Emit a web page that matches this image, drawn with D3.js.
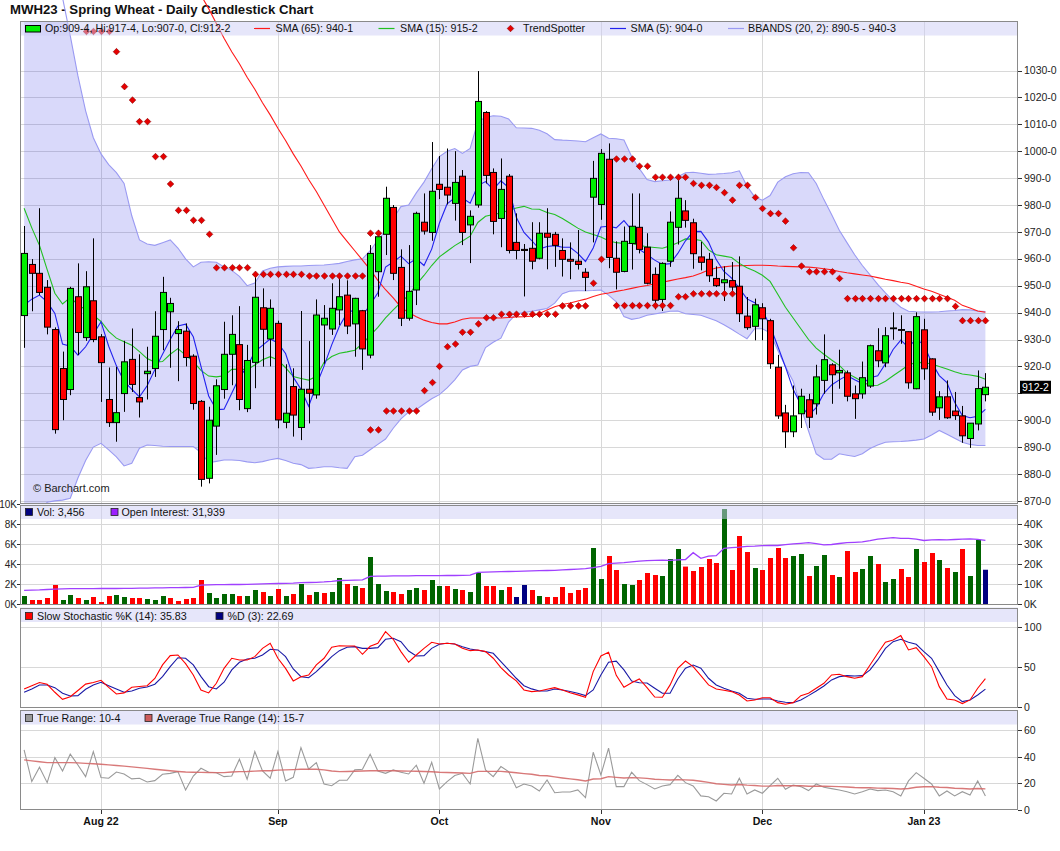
<!DOCTYPE html>
<html><head><meta charset="utf-8">
<script src="https://cdn.jsdelivr.net/npm/d3@7"></script>
<style>
html,body{margin:0;padding:0;background:#fff;}
svg{display:block;}
</style></head><body>
<svg id="chart" width="1060" height="851"></svg>
<script>
// ---------- DATA ----------
const firstDay = "2022-07-18", lastDay = "2023-01-13";
const holidays = ["2022-09-05","2022-11-24","2022-12-26","2023-01-02"];
const monthLabels = ["Aug 22","Sep","Oct","Nov","Dec","Jan 23"];
const priceTicks = [870,880,890,900,910,920,930,940,950,960,970,980,990,1000,1010,1020,1030];
const volTicksLeft = [0,2000,4000,6000,8000,10000];
const oiTicksRight = [0,10000,20000,30000,40000];
const stochTicks = [0,50,100];
const trTicks = [0,20,40,60];

const open = [938.9,957.9,954.6,949.4,933.7,919.2,911.4,945.9,930.7,944.4,
931,907.7,899.1,909.9,922.6,908.4,917.3,919.2,933.7,940.3,
932.2,933.1,923.8,907,878.4,897.8,911.4,924.5,928.1,904.3,
921.5,941.8,930.2,936,899.2,912.5,897.3,911.5,909.4,935.4,
933.9,941,946.5,935.8,940.7,924.2,955.2,969.1,979.1,956.8,
937.9,948.4,973.6,969.8,987.7,986.6,980.6,990.7,972.6,980,
1014.4,992.1,975,990.7,966.1,963.5,963.9,960.2,969.5,969.1,
963.1,959.8,959.1,955,982.9,980.2,997,960.2,955.3,965.7,
971.7,964.3,954.2,944.9,959.1,971.7,977.8,973.4,960.7,959.8,
952.7,951.1,951.9,949.8,938.7,934.9,941.8,937,919.7,902.7,
895.7,902.4,907.6,906.1,914.8,920.6,917.6,917.6,909.8,909.8,
912.7,925.8,921.3,934,933.7,932.9,911.7,933.6,922.8,904.6,
908.7,903.4,901.6,893.2,898.6,909.5];
const high = [972.2,959.9,978.8,952.1,934.5,925.5,949.6,958.3,955.4,967.6,
932,919.6,919.8,929.5,934.1,924.5,927.3,940.5,953.3,945.5,
936.8,936,924.5,907.5,905,915.2,936.6,939,942.4,928,
954.6,949,944.9,937,920.8,919.3,940.6,929.4,944.9,942.8,
950.9,954.6,952,945.5,941,965.1,970.7,986.8,980,963.5,
965.1,977.5,984.3,1003.4,998.2,1001,1000,993,978,1029.8,
1014.9,993.6,997.3,991.5,976.9,965.5,973.6,973.6,978.8,970,
967.6,966.1,970.7,956.5,996.4,1000.8,1002.9,966.5,972,984.3,
984.3,969.5,956.8,958.7,977.6,991.4,981.8,974.9,966.3,962.2,
957.2,957.2,958.8,960.9,945.8,945.2,943.5,937.7,924.3,905.7,
912.9,911.7,909.8,920.6,931.9,921.2,926.2,918.5,912.9,921.8,
928.1,934.2,934.6,940.1,939,933,940.1,937.7,923,910.8,
914.8,910.5,905.3,898.9,918.5,917.5];
const low = [926.9,940.5,946.5,931.9,895,900,909.3,924.2,929.5,929,
906.8,897.5,892,903.1,910.5,901,907.7,916.1,926,919.5,
914.5,920,903.9,875.3,876.5,887.1,908,913,903.7,903,
911.9,919.9,920,897,897,893.9,892.6,898.8,908,921,
931.7,935.4,932,923.6,918.7,923,945.9,961.4,952.1,935,
937,942.8,969,966.7,982.2,980.2,974.2,965.1,958.4,979,
988,969.1,964.3,962,959.8,946,956.1,959.8,956.1,957,
953.4,952.4,956,948,966.1,974.5,956.5,948.6,955,956,
962,950.5,941.2,940.6,957,965.3,971.6,956.3,955.7,951.4,
949.5,944.3,947,936.5,933.6,929.7,929.7,919.1,900.5,889.7,
893.7,897.1,897.1,902.1,909.8,906.1,911.7,907,900.5,908,
912,919.7,919.7,929.9,928.4,911.7,911.5,915,901.6,900.1,
900.5,900.1,891.6,889.7,896.2,907];
const close = [962,954.6,947.5,934.6,896.5,907.7,949,932.6,949.6,930,
921.4,899.1,902.8,921.7,913.3,906.8,918.2,931.2,947.5,943.4,
933.7,923.3,906.2,878,900,912.8,924.5,931.9,907.7,922.2,
945.7,933.8,941.6,900.1,902.6,901.9,911.5,910,939.1,937.9,
941.6,945.9,935,945.3,926.5,962,968.2,982.5,954.6,937.9,
947.9,976.9,970.3,985.1,985.8,983.7,988.4,969.8,975.8,1018.5,
991,973.9,985.8,963.1,963.1,963.1,959.1,969.5,968,965,
959.8,959.1,957.9,953.1,989.9,999.2,960.5,955,966.5,972.1,
963.5,950.9,944.6,958.3,973.6,982.5,974.3,961.9,958.7,953.7,
950,952.2,949.5,939.6,934.4,942.9,937.7,921,901.6,895.7,
901.6,908.9,901.1,916.1,922.5,916.9,918.5,908.9,908,915.8,
927.7,922.1,931.4,934.3,933.5,913.9,938.5,919.1,903,908.7,
900.9,901.7,894.2,898.9,911.75,912.25];
const volume = [830,430,430,630,1930,430,930,630,430,730,
230,830,930,730,630,630,530,430,830,630,
330,530,630,2430,1130,630,1030,1030,830,830,
1430,1230,830,1530,830,1030,2030,930,1230,1130,
1230,2630,2030,1830,1630,4730,2030,1330,1230,1030,
1430,1630,1430,2430,1830,1830,1530,1430,1230,3130,
1830,1830,1430,1730,730,1930,1430,830,730,730,
1730,1130,1430,1630,5630,2530,4830,3430,2030,1930,
2430,3130,2930,2830,4530,5530,3770,3330,3730,4530,
4130,9530,3430,6830,5230,3630,3430,4630,5630,4630,
4830,5030,2830,3830,4930,2930,2730,5330,3230,3530,
4830,4030,2230,2530,3530,2730,5530,4230,5130,4430,
3630,3230,5530,2830,6430,3456];
const openInterest = [7000,7100,7200,7400,7600,7700,7800,7800,7800,7800,
7900,7900,7900,8000,8000,8100,8100,8200,8200,8300,
8300,8400,8500,9600,9700,9800,9800,9900,9900,10000,
10100,10200,10300,10400,10500,10600,10800,10900,11000,11200,
11500,11900,12000,12100,12200,14000,14100,14100,14200,14200,
14200,14300,14300,14300,14300,14400,14400,14500,14600,16000,
16100,16200,16300,16400,16500,16600,16700,16800,16900,17000,
17200,17400,17600,17800,18300,19000,20300,20600,20800,21200,
21600,21800,22000,22100,22000,22200,22400,25800,23000,24100,
24300,28000,28300,28600,29000,29100,29300,29400,29400,29800,
30200,30500,30800,30300,29700,29900,30400,30800,31000,31200,
31800,32600,33000,33300,33000,33000,32600,31900,32200,32300,
32200,32400,32600,32700,32500,31939];
const sma65 = [null,null,null,null,null,null,null,null,null,null,
null,null,null,null,null,null,null,null,null,null,
null,null,null,1058,1053,1047.5,1042,1037,1032.5,1027.5,
1023,1018,1013.5,1008.5,1004,999,994.5,989.5,985,980,
975,970,966.5,963,959.5,956,952,948.5,945.5,942,
940,938.5,937.2,936.3,935.8,935.8,936.5,937.5,938,938,
938,938,938,938.2,938.4,938.5,938.7,939.7,941,942.2,
943,943.6,944.3,945,946,946.8,947.3,947.9,948.4,949,
949.6,950.1,950.7,951.3,951.9,952.5,953,953.6,954.6,955.8,
956.6,957,957.3,957.4,957.5,957.6,957.6,957.5,957.3,957.2,
957.1,957,956.9,956.7,956.3,955.9,955.3,954.8,954.4,954,
953.6,953,952.4,951.9,951.3,950.8,949.8,948.8,947.9,946.8,
945.7,944.6,942.7,941.7,940.6,940.1];
const sma15 = [978.8,971.5,965,956,947.2,943.2,945.6,943,941,939,
936.7,933,930.5,929.2,927.9,925.5,922.9,921.6,921.8,924.5,
926.6,924.2,921.8,918.5,916.4,916.1,916.5,918.9,919,918.8,
920.5,922.5,923.6,922.4,919.5,916.2,915.5,914.9,916.2,921.5,
923.7,924.9,925.4,926,928.5,931.5,934.5,938,941,943.8,
946.5,950.4,953.8,957.5,960.7,962.8,964.9,966.6,968.4,973.5,
975.8,976.5,977,978,978.9,979.5,978.5,978.4,977.2,976.5,
975,973.2,971.4,970,969,968.1,966.7,966,965.7,965.7,
965,964.5,964.2,963.9,964.8,966,967.4,967.3,966.8,963.3,
961.5,961,960.5,958.3,956.7,955.5,953.9,951.6,946.8,942,
938,934,930,926.8,924.5,922.4,920.4,917.5,916,914.4,
912.8,913,914.5,916.5,918.5,920.5,921.5,921.4,920.9,920,
919,918,917.2,916.8,916.3,915.25];
const sma5 = [942.8,945,946.5,944,939.7,928.3,927.5,924.2,927.3,932,
936.6,927.5,920.2,914.5,911.5,908.7,912.8,918.8,924.5,930,
935,935.7,931,920,909,903.9,904.1,910,916,919.8,
925.5,927.8,930.2,928.7,924.8,916,911.5,905.2,913,920.1,
928,934.9,939.9,941.1,938.9,942.9,947.4,956.9,958.8,961,
958.2,960,957.5,963.6,973.2,980.4,982.7,982.6,980.7,987.2,
988.7,985.8,989,986.5,975.4,969.8,966.8,963.6,964.6,964.9,
964.3,964.3,962,959,964,971.8,972.1,971.5,974.2,970.7,
963.5,961.6,959.5,957.9,958.2,962,966.7,970.1,970.2,966.2,
959.7,955.3,952.8,949,945.1,943.7,940.8,935.1,927.5,919.8,
911.5,905.8,901.8,904.7,910,913.1,915,916.6,915,913.6,
915.8,916.5,921,926.3,929.8,927,930.3,927.9,921.6,916.6,
914,906.7,901.7,900.9,901.5,904];
const bbUpper = [1080,1077,1073,1068,1063,1057,1043,1028,1015,1005,
999,995,992,988,976,967,965.5,965,966,967,
964,960,957,958.7,958.9,958.7,957,955.7,953.5,950,
951,955.5,956.5,957,957.2,957.3,957.3,957.5,957.6,957.7,
958,958.3,959,959.6,960,963,967,970.5,975,979.4,
980,984.5,988.5,993.5,998,1000,1001,999.2,1001,1011,
1012.5,1013.2,1013,1012,1008.7,1008.6,1008.5,1007.8,1006.5,1004.3,
1004.1,1004,1003.8,1003.5,1005,1006.4,1004.8,1004.6,1004.2,998,
993.5,989.5,988.7,989,989.3,990.5,992,992.2,991.8,991.4,
991.5,991.7,992,992.7,987,983,981.8,983.5,988.5,990.5,
991.6,992.1,992,988,982,976.5,970.6,966,961.5,957.5,
954,950.5,947.3,944.4,942,940.5,940.3,940.2,940.2,940.3,
940.6,940.8,941.1,941,940.6,940.4];
const bbLower = [855,860,865,869.5,870,870.3,871,878.5,885,890,
891.4,889,886.4,883,884,889.6,890.8,890.6,890.3,890.2,
890.2,890.2,890.2,888,884.2,884.7,885.2,885.2,885,884.5,
884.2,884.6,885.3,885.8,885,884,883.5,882.1,882.3,882.7,
882.7,882.3,882.1,886.4,887,889,891,893,897,900.5,
903,904,906,908,909.5,912,915,918.7,920,920.5,
927,929,930.5,936.5,939.5,940,940.5,941,941.5,943.5,
947,948,948.1,948.1,948.2,948.4,946.5,944,938.5,937.5,
938,939,939.5,940,940.5,940.6,939.6,939.3,939,938,
937,935.5,933.8,932,930.3,934,934,932.5,926,920,
914.5,905,896,887.5,885.5,885.5,887.5,887,886.5,887.5,
889.5,890.8,891.8,892,892.1,892.3,892.6,893,894.5,896.2,
894.8,893.3,891.8,891,890.6,890.6];
const trendAbove = [null,null,null,null,null,null,null,null,1044.5,1044.5,
1044.5,1044.5,1037,1024,1019,1011,1011,998,998,987.8,
978,978,974.3,974.3,969.1,956.7,956.7,956.7,956.7,956.7,
954.2,954.2,954.2,954.2,954.2,954.2,954.2,953.6,953.6,953.6,
953.6,953.6,953.6,953.6,953.6,969.5,969.5,null,null,null,
null,null,null,null,null,null,null,null,null,null,
null,null,null,null,null,null,null,null,null,null,
null,null,null,null,null,null,null,997.1,997.1,997.1,
994.4,994.4,990.3,990.3,990.3,990.3,990.3,988,987.3,987.3,
986.5,984.6,981.8,987.3,987.3,982.8,978.7,976.8,976.8,974,
964.1,957.3,955.2,955.2,955.2,955.2,952.7,945.2,945.2,945.2,
945.2,945.2,945.2,945.2,945.2,945.2,945.2,945.2,945.2,945.2,
945.2,942.3,937,937,937,937];
const trendBelow = [null,null,null,null,null,null,null,null,null,null,
null,null,null,null,null,null,null,null,null,null,
null,null,null,null,null,null,null,null,null,null,
null,null,null,null,null,null,null,null,null,null,
null,null,null,null,null,896.4,896.4,903.4,903.4,903.4,
903.4,903.4,911,914,920,927.3,928.3,932.7,932.7,935.8,
938.1,938.1,939.4,939.4,939.4,939.4,939.4,939.4,939.4,939.4,
942.5,942.5,942.5,942.5,950.9,959.8,null,942.6,942.6,942.6,
942.6,942.6,942.6,942.6,942.6,945.9,945.9,947,947,947,
947,947,947,null,null,null,null,null,null,null,
null,null,null,null,null,null,null,null,null,null,
null,null,null,null,null,null,null,null,null,null,
null,null,null,null,null,null];
const stochK = [22.9,27,31,28.8,18.8,10,13.3,21,29,31,
33.8,25,16.7,18,25,26,27,36,53,64.6,
65.4,54.6,40.4,21.7,18,30,48.7,61.3,59.2,59.2,
63.3,73.7,80,61.3,48.7,33,38.3,40.4,53,61.3,
75,77,76.7,76.7,66.3,76.3,80,94.6,85,69.6,
56.3,65.4,73.7,81.3,79.2,80,79.2,73.7,70.8,71.7,
69.6,61.3,49.6,40.4,33,21.7,19.6,20.4,22.5,24.6,
21.7,18.3,15.5,12.5,44.6,64.2,68.8,40,25,30.8,
35.4,24.6,12.9,12.5,28,48.8,57.9,50.8,39.6,28,
22.9,21.3,19.6,15.4,7.9,9.2,12,12,5.8,3.75,
5.8,14.6,17.5,23.8,30,40.4,41.3,38.3,36.3,38.3,
52.9,67.5,81.3,84.2,89.6,71.7,74.6,63.3,50.8,25.8,
10.4,9.2,4.6,9.2,23.8,35.83];
const stochD = [18.8,23,27.9,27.9,24.6,17.5,14.2,14.6,22.5,27.9,
31.3,27,22.9,18.8,20.4,23.8,25.4,28.8,38.3,50.8,
62,61.3,53,38.3,25.8,22.9,31.3,46.7,56.3,60.4,
61.3,65.4,72.5,71.7,63.3,47.9,38.3,37,44.6,53.8,
63.3,70.8,75,75.8,73.7,73.7,74.6,85,86.3,82,
70.4,64.2,64.6,73.7,78.8,80,79.2,75.8,72.9,71.3,
69.6,67.5,57,46.7,36.3,27,23,20.4,20.4,22.9,
21.7,19.8,17.5,14.6,21.7,40.4,56.3,57.7,46.7,32.9,
30.7,30.4,23.8,17.5,17.5,35.4,48.8,52.9,48.8,36.3,
27.9,23.8,20.4,17.5,11.3,10,10.4,10.4,7.9,6.3,
5.8,9.2,14.6,20.4,26.7,34.2,38.3,39.6,39.2,39.6,
46.7,59.2,73.7,82.1,85,81.3,78.8,69.6,61.3,44.6,
27.9,14.6,7.1,9.2,15.4,22.69];
const trueRange = [45.2,21.4,32.2,20.6,39.4,29.4,42,33.9,25.1,44,
24.4,23.9,28.6,27.1,23.4,23.9,21.1,22.1,26.9,27.6,
28.9,15.1,25.6,31.4,28.4,28.1,25.1,25.6,38.2,23.1,
44,29.4,23.9,44,21.9,24.6,47,30.7,35.7,19.6,
18.3,22.4,22.4,30.2,30.7,42,29.4,27.6,30.2,28.4,
27.1,33.7,20.1,35.9,15.8,21.4,25.9,27.6,19.6,54,
30.2,25.1,32.7,28.9,16.8,19.6,18,14.3,22.6,13,
13.6,13.6,15.1,9.3,43.5,26.4,46.5,17.6,17.6,28.4,
22.1,19.1,15.8,18.1,19.1,26.1,20.6,18.1,10.6,10,
6.8,12.6,12.1,23.9,12.1,15.1,12.6,18.3,23.9,15.6,
18.8,17.6,14.6,19.6,17.1,16.1,15.1,13.8,12.1,13.8,
15.8,14.6,15.1,13.8,10.6,21.9,28.1,23.9,19.6,10.6,
14.3,10.6,13.8,11.3,21.9,10.5];
const atr = [37.7,37,36.3,35.7,35.7,35.7,35.7,35.5,35.1,34.8,
34.4,34,33.5,33,32.5,31.9,31.3,30.7,30.1,29.5,
29,28.6,28.4,28.3,28.2,28.1,28.1,28.6,28.9,29,
29.3,29.5,29.6,30,30.2,30.4,30.7,30.7,30.7,30.2,
29.4,28.9,29,29.2,29.4,29.6,29.6,29.5,29.5,29.4,
29.3,29.2,29,28.8,28.4,28.2,28,27.8,27.6,29.1,
29.1,29.1,29.1,28.6,28,27.4,26.9,26,25.8,24.9,
24.1,23.4,22.8,21.8,23.3,23.5,25.1,24.6,24.1,24.4,
24.2,23.8,23.2,22.9,22.6,22.9,22.7,22.4,21.6,20.8,
19.8,19.3,18.8,19.2,18.7,18.4,18,18,18.4,18.2,
18.3,18.2,17.9,18,17.9,17.8,17.6,17.3,16.9,16.8,
16.7,16.5,16.4,16.2,15.8,16.2,17.1,17.5,17.6,17.1,
16.9,16.4,16.2,15.8,16.2,15.875];

// ---------- SETUP ----------
const FONT = "'Liberation Sans', Arial, Helvetica, sans-serif";
const svg = d3.select("#chart").style("font-family", FONT);
const X0 = 20, X1 = 1018;
const crisp = v => Math.round(v) + 0.5;
const parse = d3.utcParse("%Y-%m-%d"), key = d3.utcFormat("%Y-%m-%d");
const dates = d3.utcDay.range(parse(firstDay), d3.utcDay.offset(parse(lastDay), 1))
  .filter(d => d.getUTCDay() !== 0 && d.getUTCDay() !== 6 && !holidays.includes(key(d)));
const keys = dates.map(key);
const bars = keys.map((k, i) => ({k, i, o: open[i], h: high[i], l: low[i], c: close[i]}));
const x = d3.scalePoint().domain(keys).range([24.1, 985.4]);
const monthStarts = keys.filter((k, i) => i > 0 && dates[i].getUTCMonth() !== dates[i-1].getUTCMonth());
const n = keys.length;
const fmtP = p => { let w = Math.floor(p), e = Math.round((p - w) * 8); if (e === 8) { w += 1; e = 0; } return w + "-" + e; };

const panels = {
  main: {top: 21, bottom: 504},
  vol: {top: 504.5, bottom: 604.5},
  sto: {top: 607.5, bottom: 707.5},
  tr: {top: 710, bottom: 810}
};
const defs = svg.append("defs");
function clip(id, y0, y1) {
  defs.append("clipPath").attr("id", id).append("rect").attr("x", X0).attr("y", y0).attr("width", X1 - X0).attr("height", y1 - y0);
  return "url(#" + id + ")";
}
const clipMain = clip("cm", 21, 504), clipMainLines = clip("cml", -30, 504);
const clipVol = clip("cv", 504.5, 604.5), clipSto = clip("cs", 607.5, 707.5), clipTr = clip("ct", 710, 810);

const yP = d3.scaleLinear().domain([880, 1030]).range([474, 70.5]);
const yV = d3.scaleLinear().domain([0, 10000]).range([604.3, 504.3]);
const yOI = d3.scaleLinear().domain([0, 40000]).range([604.3, 524.3]);
const yS = d3.scaleLinear().domain([0, 100]).range([707.3, 627.3]);
const yT = d3.scaleLinear().domain([0, 60]).range([810, 730.3]);

const GRID = "#d8d8d8";
function vGrid(g, p) {
  g.selectAll(null).data(monthStarts).join("line")
    .attr("x1", d => crisp(x(d))).attr("x2", d => crisp(x(d)))
    .attr("y1", p.top).attr("y2", p.bottom).attr("stroke", GRID).attr("stroke-width", 1);
}
function hGrid(g, vals, sc) {
  g.selectAll(null).data(vals).join("line")
    .attr("x1", X0).attr("x2", X1).attr("y1", d => crisp(sc(d))).attr("y2", d => crisp(sc(d)))
    .attr("stroke", GRID).attr("stroke-width", 1);
}
function legendBand(p, h) {
  svg.append("rect").attr("x", X0).attr("y", p.top).attr("width", X1 - X0).attr("height", h)
    .attr("fill", "#cdcdf5").attr("opacity", 0.5);
}
function frame(p) {
  svg.append("rect").attr("x", X0 + 0.5).attr("y", crisp(p.top) ).attr("width", X1 - X0 - 1).attr("height", Math.round(p.bottom - p.top) - 1)
    .attr("fill", "none").attr("stroke", "#8a8a8a").attr("stroke-width", 1);
}
function rightAxis(vals, sc, fmt, skip) {
  const g = svg.append("g");
  g.selectAll(null).data(vals).join("line").attr("x1", X1).attr("x2", X1 + 4)
    .attr("y1", d => crisp(sc(d))).attr("y2", d => crisp(sc(d))).attr("stroke", "#333");
  g.selectAll(null).data(vals.filter(v => !skip || !skip(v))).join("text").attr("x", X1 + 6).attr("y", d => sc(d)).attr("dy", "0.35em")
    .attr("font-size", 10.5).attr("fill", "#222").text(fmt);
}
function leftAxis(vals, sc, fmt) {
  const g = svg.append("g");
  g.selectAll(null).data(vals).join("line").attr("x1", X0 - 3).attr("x2", X0)
    .attr("y1", d => crisp(sc(d))).attr("y2", d => crisp(sc(d))).attr("stroke", "#333");
  g.selectAll(null).data(vals).join("text").attr("x", X0 - 3).attr("y", d => sc(d)).attr("dy", "0.35em")
    .attr("text-anchor", "end").attr("font-size", 10).attr("fill", "#222").text(fmt);
}
function lineOf(sc, arr) {
  return d3.line().defined((d, i) => arr[i] != null).x(d => x(d)).y((d, i) => sc(arr[i]));
}
function legSquare(xx, yy, color) {
  svg.append("rect").attr("x", xx + 0.5).attr("y", yy + 0.5).attr("width", 7).attr("height", 7)
    .attr("fill", color).attr("stroke", "#222").attr("stroke-width", 0.8);
}
function legLine(xx, yy, color) {
  svg.append("line").attr("x1", xx).attr("x2", xx + 16).attr("y1", yy + 0.5).attr("y2", yy + 0.5).attr("stroke", color).attr("stroke-width", 1.2);
}
function legText(xx, yy, t) {
  svg.append("text").attr("x", xx).attr("y", yy).attr("font-size", 10.7).attr("fill", "#111").text(t);
}

// ---------- TITLE ----------
svg.append("text").attr("x", 10).attr("y", 14).attr("font-size", 13.2).attr("font-weight", "bold")
  .attr("fill", "#111").text("MWH23 - Spring Wheat - Daily Candlestick Chart");

// ---------- MAIN PANEL ----------
const pm = panels.main;
const gm = svg.append("g");
hGrid(gm, priceTicks, yP);
vGrid(gm, pm);
gm.append("path").attr("clip-path", clipMain)
  .attr("d", d3.area().x(d => x(d)).y0((d, i) => yP(bbLower[i])).y1((d, i) => yP(bbUpper[i]))(keys))
  .attr("fill", "#2b2be6").attr("fill-opacity", 0.18);
const gl = svg.append("g").attr("clip-path", clipMainLines).attr("fill", "none");
gl.append("path").attr("d", lineOf(yP, bbUpper)(keys)).attr("stroke", "#9a9af2").attr("stroke-width", 1.1);
gl.append("path").attr("d", lineOf(yP, bbLower)(keys)).attr("stroke", "#9a9af2").attr("stroke-width", 1.1);
gl.append("path").attr("d", lineOf(yP, sma65)(keys)).attr("stroke", "#ff1a1a").attr("stroke-width", 1.1);
gl.append("path").attr("d", lineOf(yP, sma15)(keys)).attr("stroke", "#22c022").attr("stroke-width", 1.1);
gl.append("path").attr("d", lineOf(yP, sma5)(keys)).attr("stroke", "#2222ee").attr("stroke-width", 1.1);
const gc = svg.append("g").attr("clip-path", clipMain);
gc.selectAll("line").data(bars).join("line")
  .attr("x1", d => crisp(x(d.k))).attr("x2", d => crisp(x(d.k)))
  .attr("y1", d => yP(d.h)).attr("y2", d => yP(d.l)).attr("stroke", "#000").attr("stroke-width", 1);
gc.selectAll("rect").data(bars).join("rect")
  .attr("x", d => Math.round(x(d.k)) - 2.5).attr("width", 6)
  .attr("y", d => yP(Math.max(d.o, d.c)))
  .attr("height", d => Math.max(0.8, Math.abs(yP(d.o) - yP(d.c))))
  .attr("fill", d => d.c >= d.o ? "#00ee00" : "#ff0000")
  .attr("stroke", "#000").attr("stroke-width", 1);
const diamond = (cx, cy) => `M${cx},${cy-3.3}L${cx+3.3},${cy}L${cx},${cy+3.3}L${cx-3.3},${cy}Z`;
const tsPts = [];
keys.forEach((k, i) => {
  if (trendAbove[i] != null) tsPts.push([x(k), yP(trendAbove[i])]);
  if (trendBelow[i] != null) tsPts.push([x(k), yP(trendBelow[i])]);
});
svg.append("g").attr("clip-path", clipMainLines).selectAll("path").data(tsPts).join("path")
  .attr("d", d => diamond(Math.round(d[0]) + 0.5, d[1])).attr("fill", "#e60000").attr("stroke", "#8a0000").attr("stroke-width", 0.6);
legendBand(pm, 14.5);
svg.append("text").attr("x", 33).attr("y", 492).attr("font-size", 11).attr("fill", "#222").text("\u00a9 Barchart.com");
const L = n - 1;
svg.append("rect").attr("x", 25.5).attr("y", 25.5).attr("width", 15).attr("height", 6.5).attr("fill", "#00ee00").attr("stroke", "#000");
legText(45, 32, `Op:${fmtP(open[L])}, Hi:${fmtP(high[L])}, Lo:${fmtP(low[L])}, Cl:${fmtP(close[L])}`);
legLine(254, 28, "#ff1a1a"); legText(275.5, 32, `SMA (65): ${fmtP(sma65[L])}`);
legLine(378.5, 28, "#22c022"); legText(400, 32, `SMA (15): ${fmtP(sma15[L])}`);
svg.append("path").attr("d", diamond(510.5, 28.5)).attr("fill", "#e60000").attr("stroke", "#8a0000").attr("stroke-width", 0.6);
legText(523, 32, "TrendSpotter");
legLine(610, 28, "#2222ee"); legText(630.5, 32, `SMA (5): ${fmtP(sma5[L])}`);
legLine(728, 28, "#9a9af2"); legText(748, 32, `BBANDS (20, 2): ${fmtP(bbLower[L])} - ${fmtP(bbUpper[L])}`);
frame(pm);
const yl = yP(close[L]);
rightAxis(priceTicks, yP, d => d + "-0", v => Math.abs(yP(v) - yl) < 10);
svg.append("rect").attr("x", 1020).attr("y", yl - 6.5).attr("width", 31).attr("height", 13).attr("fill", "#000");
svg.append("text").attr("x", 1022).attr("y", yl).attr("dy", "0.35em").attr("font-size", 10.5).attr("fill", "#fff").text(fmtP(close[L]));

// ---------- VOLUME PANEL ----------
const pv = panels.vol;
const gv = svg.append("g");
hGrid(gv, [2000, 4000, 6000, 8000], yV);
vGrid(gv, pv);
const volColor = i => {
  if (i === n - 1) return "#000080";
  if (i === 0 || close[i] > close[i-1]) return "#006400";
  if (close[i] < close[i-1]) return "#ff0000";
  return "#000080";
};
svg.append("g").attr("clip-path", clipVol).selectAll("rect").data(keys).join("rect")
  .attr("x", d => Math.round(x(d)) - 2).attr("width", 5)
  .attr("y", (d, i) => yV(volume[i])).attr("height", (d, i) => yV(0) - yV(volume[i]))
  .attr("fill", (d, i) => volColor(i));
svg.append("path").attr("clip-path", clipVol).attr("d", lineOf(yOI, openInterest)(keys))
  .attr("fill", "none").attr("stroke", "#a040ff").attr("stroke-width", 1.3);
legendBand(pv, 14.5);
legSquare(25, 508, "#000080"); legText(37, 516, `Vol: ${d3.format(",")(volume[L])}`);
legSquare(110.5, 508, "#9b1fff"); legText(121.5, 516, `Open Interest: ${d3.format(",")(openInterest[L])}`);
frame(pv);
leftAxis(volTicksLeft, yV, d => (d / 1000) + "K");
rightAxis(oiTicksRight, yOI, d => (d / 1000) + "K");

// ---------- STOCHASTIC PANEL ----------
const ps = panels.sto;
const gs = svg.append("g");
hGrid(gs, [50, 100], yS);
vGrid(gs, ps);
const gsl = svg.append("g").attr("clip-path", clipSto).attr("fill", "none");
gsl.append("path").attr("d", lineOf(yS, stochD)(keys)).attr("stroke", "#1a1aa6").attr("stroke-width", 1.1);
gsl.append("path").attr("d", lineOf(yS, stochK)(keys)).attr("stroke", "#ff0000").attr("stroke-width", 1.1);
legendBand(ps, 14.5);
legSquare(25, 612, "#ff0000"); legText(37, 620, `Slow Stochastic %K (14): ${stochK[L].toFixed(2)}`);
legSquare(215.5, 612, "#000080"); legText(227.5, 620, `%D (3): ${stochD[L].toFixed(2)}`);
frame(ps);
rightAxis(stochTicks, yS, d => d);

// ---------- TRUE RANGE PANEL ----------
const pt = panels.tr;
const gt = svg.append("g");
hGrid(gt, [20, 40, 60], yT);
vGrid(gt, pt);
const gtl = svg.append("g").attr("clip-path", clipTr).attr("fill", "none");
gtl.append("path").attr("d", lineOf(yT, trueRange)(keys)).attr("stroke", "#9a9a9a").attr("stroke-width", 1.1);
gtl.append("path").attr("d", lineOf(yT, atr)(keys)).attr("stroke", "#d46a6a").attr("stroke-width", 1.4).attr("opacity", 0.9);
legendBand(pt, 14.5);
legSquare(25, 714, "#999999"); legText(37, 722, `True Range: ${fmtP(trueRange[L])}`);
legSquare(144.5, 714, "#cd5c5c"); legText(156.5, 722, `Average True Range (14): ${fmtP(atr[L])}`);
frame(pt);
rightAxis(trTicks, yT, d => d);

// ---------- X AXIS ----------
const gx = svg.append("g");
gx.selectAll("line").data(monthStarts).join("line")
  .attr("x1", d => crisp(x(d))).attr("x2", d => crisp(x(d))).attr("y1", 810).attr("y2", 814).attr("stroke", "#333");
gx.selectAll("text").data(monthStarts).join("text")
  .attr("x", d => x(d)).attr("y", 825).attr("text-anchor", "middle")
  .attr("font-size", 10.6).attr("font-weight", "bold").attr("fill", "#111")
  .text((d, i) => monthLabels[i]);
</script>
</body></html>
